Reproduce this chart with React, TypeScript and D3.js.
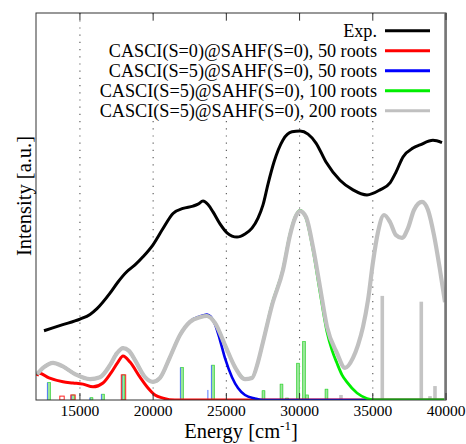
import React from "react";
import * as d3 from "d3";

// ---------- data ----------
const expE = [12546, 13776, 15005, 15688, 16166, 17054, 17600, 18215, 18761, 19307, 19990, 20673, 21356, 22039, 22722, 23063, 23405, 23746, 24088, 24566, 25044, 25727, 26273, 26751, 27161, 27503, 27844, 28254, 28868, 29483, 30029, 30576, 31122, 31805, 32761, 33649, 34605, 35493, 36176, 36585, 37064, 37746, 38224, 39112, 39727];
const expI = [0.179, 0.194, 0.209, 0.221, 0.236, 0.276, 0.305, 0.332, 0.349, 0.370, 0.401, 0.443, 0.482, 0.495, 0.501, 0.506, 0.514, 0.505, 0.486, 0.455, 0.432, 0.421, 0.429, 0.444, 0.470, 0.504, 0.558, 0.615, 0.672, 0.693, 0.695, 0.687, 0.664, 0.615, 0.568, 0.543, 0.530, 0.543, 0.561, 0.589, 0.628, 0.651, 0.659, 0.671, 0.665];

const redE = [12068, 12205, 12888, 13844, 14527, 15210, 15893, 16575, 17122, 17600, 17941, 18419, 19102, 19648, 20126, 20673, 21492, 30000, 40000];
const redI = [0.062, 0.070, 0.057, 0.047, 0.044, 0.041, 0.034, 0.044, 0.070, 0.098, 0.114, 0.098, 0.059, 0.031, 0.013, 0.005, 0.0, 0.0, 0.0];

const blueE = [12068, 12546, 13161, 13776, 14663, 15688, 16371, 17054, 17532, 17941, 18351, 18761, 19444, 19990, 20468, 21151, 21834, 22517, 23200, 23678, 24224, 24565, 24907, 25385, 25795, 26273, 26956, 27500, 40000];
const blueI = [0.067, 0.085, 0.096, 0.088, 0.067, 0.054, 0.059, 0.090, 0.121, 0.134, 0.127, 0.103, 0.059, 0.047, 0.057, 0.111, 0.168, 0.203, 0.216, 0.221, 0.196, 0.155, 0.108, 0.059, 0.031, 0.013, 0.004, 0.0, 0.0];

const greenE = [12068, 12546, 13161, 13776, 14663, 15688, 16371, 17054, 17532, 17941, 18351, 18761, 19444, 19990, 20468, 21151, 21834, 22517, 23200, 23678, 24224, 24907, 25590, 26273, 26751, 27161, 27503, 28117, 28868, 29346, 29688, 30029, 30439, 30917, 31395, 31873, 32214, 32556, 32897, 33238, 33921, 34604, 35150, 40000];
const greenI = [0.067, 0.085, 0.096, 0.088, 0.067, 0.054, 0.059, 0.090, 0.121, 0.134, 0.127, 0.103, 0.059, 0.047, 0.057, 0.111, 0.168, 0.202, 0.214, 0.217, 0.199, 0.142, 0.085, 0.054, 0.057, 0.098, 0.150, 0.247, 0.338, 0.428, 0.472, 0.490, 0.470, 0.388, 0.279, 0.176, 0.129, 0.095, 0.065, 0.046, 0.018, 0.004, 0.0, 0.0];

const grayE = [12068, 12546, 13161, 13776, 14663, 15688, 16371, 17054, 17532, 17941, 18351, 18761, 19444, 19990, 20468, 21151, 21834, 22517, 23200, 23678, 24224, 24907, 25590, 26273, 26751, 27161, 27503, 28117, 28868, 29346, 29688, 30029, 30439, 30917, 31395, 31873, 32556, 33102, 33649, 33990, 34332, 34673, 35015, 35356, 35766, 36176, 36585, 36995, 37405, 37815, 38361, 38771, 39180, 39590, 39931];
const grayI = [0.067, 0.085, 0.096, 0.088, 0.067, 0.054, 0.059, 0.090, 0.121, 0.134, 0.127, 0.103, 0.059, 0.047, 0.057, 0.111, 0.168, 0.202, 0.214, 0.217, 0.199, 0.142, 0.085, 0.054, 0.057, 0.098, 0.150, 0.245, 0.336, 0.426, 0.470, 0.488, 0.473, 0.395, 0.292, 0.189, 0.121, 0.083, 0.109, 0.142, 0.189, 0.258, 0.357, 0.434, 0.478, 0.460, 0.426, 0.419, 0.444, 0.491, 0.512, 0.491, 0.426, 0.336, 0.253];

// stick spectra
const redStickE = [13776, 14527, 17975];
const redStickI = [0.010, 0.013, 0.065];
const blueStickE = [12888, 14527, 15790, 16575, 17975, 21970, 23848, 24088];
const blueStickI = [0.045, 0.013, 0.006, 0.015, 0.065, 0.084, 0.026, 0.090];
const greenStickE = [12888, 14527, 15790, 16575, 17975, 21970, 24088, 27536, 28765, 29140, 29892, 30302, 30507, 31838];
const greenStickI = [0.045, 0.013, 0.006, 0.015, 0.065, 0.084, 0.090, 0.024, 0.041, 0.005, 0.095, 0.151, 0.013, 0.028];
const grayStickE = [12888, 14527, 15790, 16575, 17975, 21970, 24088, 27536, 28765, 29140, 29892, 30302, 30507, 31838, 32828, 35649, 38312, 38906, 39248];
const grayStickI = [0.045, 0.013, 0.006, 0.015, 0.065, 0.084, 0.090, 0.024, 0.041, 0.005, 0.095, 0.151, 0.013, 0.028, 0.013, 0.269, 0.254, 0.010, 0.036];

const xTicks = [15000, 20000, 25000, 30000, 35000, 40000];
const gridTicks = [15000, 20000, 25000, 30000, 35000];

const legendLabels = [
  "Exp.",
  "CASCI(S=0)@SAHF(S=0), 50 roots",
  "CASCI(S=5)@SAHF(S=0), 50 roots",
  "CASCI(S=5)@SAHF(S=0), 100 roots",
  "CASCI(S=5)@SAHF(S=0), 200 roots",
];
const legendColors = ["#000000", "#ff0000", "#0000ff", "#00ee00", "#c0c0c0"];

// ---------- layout ----------
const W = 466;
const H = 444;
const L = 36, R = 446, T = 13, B = 400;
const FONT = "'Liberation Serif', 'Times New Roman', serif";

export default function App() {
  const x = d3.scaleLinear().domain([12000, 40000]).range([L, R]);
  const y = d3.scaleLinear().domain([0, 1]).range([B, T]);

  const mk = (es: number[], is: number[]) =>
    d3
      .line<number>()
      .x((_, i) => x(es[i]))
      .y((d) => y(d))
      .curve(d3.curveMonotoneX)(is) || "";

  return (
    <svg width={W} height={H} style={{ position: "absolute", left: 0, top: 0, background: "#fff" }} fontFamily={FONT}>
      <defs>
        <clipPath id="plot">
          <rect x={L} y={T} width={R - L} height={B - T} />
        </clipPath>
      </defs>
      <rect x={0} y={0} width={W} height={H} fill="#fff" />

      {/* grid */}
      {gridTicks.map((t) => (
        <line key={t} x1={x(t)} x2={x(t)} y1={T} y2={B} stroke="#555" strokeWidth={1.1} strokeDasharray="1.2,6" />
      ))}

      {/* legend background */}
      <rect x={100} y={21} width={R - 101} height={98} fill="#fff" />

      <g clipPath="url(#plot)">
        {/* sticks */}
        {grayStickE.map((e, i) => (
          <rect key={"gs" + i} x={x(e) - 1.8} width={3.6} y={y(grayStickI[i])} height={B - y(grayStickI[i])} fill="#c4c4c4" />
        ))}
        {greenStickE.map((e, i) => (
          <rect key={"ns" + i} x={x(e) - 1.3} width={2.6} y={y(greenStickI[i])} height={B - y(greenStickI[i])} fill="#9ee89e" stroke="#33dd33" strokeWidth={0.7} />
        ))}
        {blueStickE.map((e, i) => (
          <line key={"bs" + i} x1={x(e) - 1.6} x2={x(e) - 1.6} y1={B} y2={y(blueStickI[i])} stroke="#5577ff" strokeWidth={1} />
        ))}
        {redStickE.map((e, i) => (
          <rect key={"rs" + i} x={x(e) - 2.2} width={4.4} y={y(redStickI[i])} height={B - y(redStickI[i])} fill="none" stroke="#ff2222" strokeWidth={1} />
        ))}

        {/* curves */}
        <path d={mk(expE, expI)} fill="none" stroke="#000" strokeWidth={3} strokeLinejoin="round" />
        <path d={mk(redE, redI)} fill="none" stroke="#ff0000" strokeWidth={3} strokeLinejoin="round" />
        <path d={mk(blueE, blueI)} fill="none" stroke="#0000ee" strokeWidth={2.6} strokeLinejoin="round" />
        <path d={mk(greenE, greenI)} fill="none" stroke="#00ee00" strokeWidth={2.8} strokeLinejoin="round" />
        <path d={mk(grayE, grayI)} fill="none" stroke="#c0c0c0" strokeWidth={4.2} strokeLinejoin="round" />
      </g>

      {/* frame */}
      <rect x={L} y={T} width={R - L} height={B - T} fill="none" stroke="#333" strokeWidth={1} />
      <line x1={R - 0.5} x2={R - 0.5} y1={T} y2={B} stroke="#777" strokeWidth={2.5} />

      {/* ticks */}
      {xTicks.map((t) => (
        <g key={t}>
          <line x1={x(t)} x2={x(t)} y1={B} y2={B - 7} stroke="#333" strokeWidth={1} />
          <line x1={x(t)} x2={x(t)} y1={T} y2={T + 7} stroke="#333" strokeWidth={1} />
          <text x={x(t)} y={416} textAnchor="middle" fontSize={15.5} fill="#000">
            {t}
          </text>
        </g>
      ))}

      {/* axis labels */}
      <text x={241} y={438} textAnchor="middle" fontSize={20.5} fill="#000">
        Energy [cm<tspan dy={-8} fontSize={13}>-1</tspan>
        <tspan dy={8}>]</tspan>
      </text>
      <text transform={`translate(31,196) rotate(-90)`} textAnchor="middle" fontSize={20.5} fill="#000">
        Intensity [a.u.]
      </text>

      {/* legend */}
      {legendLabels.map((lab, i) => {
        const cy = 30.7 + i * 20;
        return (
          <g key={lab}>
            <text x={377} y={cy + 6} textAnchor="end" fontSize={18.2} fill="#000">
              {lab}
            </text>
            <line x1={385} x2={430} y1={cy} y2={cy} stroke={legendColors[i]} strokeWidth={3} />
          </g>
        );
      })}
    </svg>
  );
}
